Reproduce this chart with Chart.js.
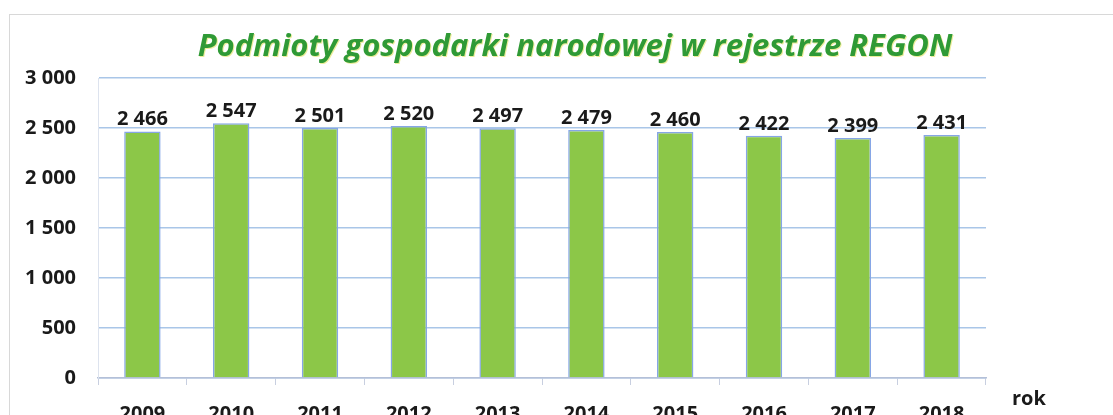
<!DOCTYPE html>
<html><head><meta charset="utf-8">
<script src="https://cdn.jsdelivr.net/npm/chart.js@4.4.0/dist/chart.umd.min.js"></script>
<style>
html,body{margin:0;padding:0;background:#fff;}
#wrap{position:relative;width:1113px;height:415px;}
#frame{position:absolute;left:9px;top:14px;width:1120px;height:420px;border-left:1px solid #d8d8d8;border-top:1px solid #d8d8d8;}
canvas{position:absolute;left:0;top:0;}
</style></head>
<body><div id="wrap"><div id="frame"></div><canvas id="c" width="1113" height="415"></canvas></div>
<script>
const years = ['2009','2010','2011','2012','2013','2014','2015','2016','2017','2018'];
const values = [2466, 2547, 2501, 2520, 2497, 2479, 2460, 2422, 2399, 2431];
const yTicks = [0, 500, 1000, 1500, 2000, 2500, 3000];
const titleText = 'Podmioty gospodarki narodowej w rejestrze REGON';
const axisName = 'rok';

const fmt = v => String(v).replace(/\B(?=(\d{3})+(?!\d))/g, ' ');
const FONT = '"Open Sans", Lato, sans-serif';

const overlay = {
  id: 'overlay',
  afterDatasetsDraw(chart) {
    const ctx = chart.ctx;
    const meta = chart.getDatasetMeta(0);
    ctx.save();
    ctx.fillStyle = '#1a1a1a';
    ctx.font = '700 20px ' + FONT;
    ctx.textAlign = 'center';
    ctx.textBaseline = 'alphabetic';
    meta.data.forEach((bar, i) => {
      ctx.fillText(fmt(values[i]), bar.x, bar.y - 6);
    });
    // title
    ctx.font = 'italic 700 31px "Open Sans", sans-serif';
    ctx.fillStyle = 'rgba(225,225,90,0.6)';
    ctx.fillText(titleText, 576, 57);
    ctx.fillStyle = '#2f9a36';
    ctx.fillText(titleText, 575, 56);
    // axis name
    ctx.font = '700 20px ' + FONT;
    ctx.fillStyle = '#1a1a1a';
    ctx.textAlign = 'left';
    ctx.fillText(axisName, 1012, 405);
    ctx.restore();
  }
};

new Chart(document.getElementById('c'), {
  type: 'bar',
  data: {
    labels: years,
    datasets: [{
      data: values,
      backgroundColor: '#8cc748',
      borderColor: '#86a6e6',
      borderWidth: 1.5,
      barPercentage: 0.41,
      categoryPercentage: 1.0
    }]
  },
  options: {
    responsive: false,
    animation: false,
    layout: { padding: { top: 78, right: 127, left: 0, bottom: 0 } },
    plugins: { legend: { display: false }, title: { display: false }, tooltip: { enabled: false } },
    scales: {
      x: {
        grid: { display: true, drawOnChartArea: false, color: '#c8cfe0', tickLength: 7, offset: true },
        border: { color: '#b4c0d8', width: 1.5 },
        ticks: { color: '#1a1a1a', font: { family: FONT, size: 20, weight: 'bold' }, padding: 17 },
        afterFit(s) { s.height = 37; }
      },
      y: {
        min: 0, max: 3000,
        afterBuildTicks(s) { s.ticks = yTicks.map(v => ({ value: v })); },
        grid: { color: '#a9c6e8', lineWidth: 1.5, tickLength: 0 },
        border: { color: '#dde3ee', width: 1 },
        ticks: { color: '#1a1a1a', font: { family: FONT, size: 20, weight: 'bold' }, padding: 22, callback: v => fmt(v) },
        afterFit(s) { s.width = 98; }
      }
    }
  },
  plugins: [overlay]
});
</script></body></html>
